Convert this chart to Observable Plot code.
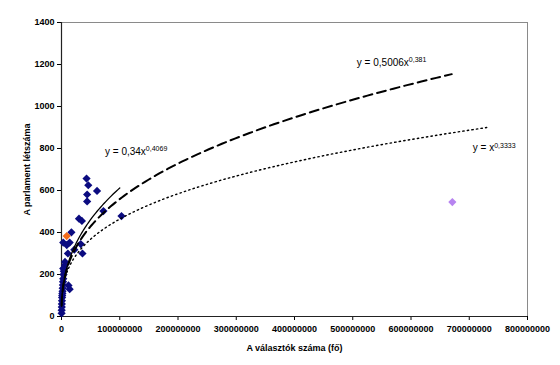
<!DOCTYPE html>
<html>
<head>
<meta charset="utf-8">
<script src="https://cdn.jsdelivr.net/npm/d3@7"></script>
<script src="https://cdn.jsdelivr.net/npm/@observablehq/plot@0.6"></script>
<style>
  html, body { margin: 0; padding: 0; background: #fff; }
  #chart { width: 560px; height: 365px; }
</style>
</head>
<body>
<div id="chart"></div>
<script>
// Voters (millions) and parliament size – blue countries
const blueVoters = [0.2, 0.3, 0.5, 0.6, 0.8, 1.0, 1.2, 1.5, 1.8, 2.0, 2.3, 2.6, 3.0, 3.5, 4.0, 4.5, 6.0, 6.0, 12, 14, 3.0,
                    3, 9, 14, 33, 11, 22, 36, 17, 30, 35, 44, 44, 61, 46, 43, 72, 103];
const blueSeats  = [15, 30, 45, 60, 75, 90, 100, 110, 120, 135, 150, 165, 180, 200, 215, 230, 245, 260, 148, 130, 228,
                    352, 340, 352, 345, 300, 318, 300, 401, 466, 455, 548, 581, 598, 625, 657, 502, 478];
// Highlighted points
const orangeVoters = [8.9];
const orangeSeats = [383];
const purpleVoters = [671];
const purpleSeats = [545];

// Trendlines as shown on the chart: y = a * x^b
const trendA = [0.34, 0.5006, 1];
const trendB = [0.4069, 0.381, 0.3333];
const trendFrom = [0.2e6, 0.2e6, 0.2e6];
const trendTo = [100e6, 670e6, 730e6];

// Equation labels (base ^ exponent)
const eqText = ["y = 0,34x^0,4069", "y = 0,5006x^0,381", "y = x^0,3333"];
const eqX = [0.747e8, 5.07e8, 7.06e8];
const eqY = [785, 1207, 801];

const xTicks = d3.range(0, 800000001, 100000000);
const yTicks = d3.range(0, 1401, 200);

const blue = blueVoters.map((v, i) => ({x: v * 1e6, y: blueSeats[i]}));
const orange = orangeVoters.map((v, i) => ({x: v * 1e6, y: orangeSeats[i]}));
const purple = purpleVoters.map((v, i) => ({x: v * 1e6, y: purpleSeats[i]}));

function trend(k) {
  const n = 200;
  const l0 = Math.log(trendFrom[k]), l1 = Math.log(trendTo[k]);
  return d3.range(n + 1).map(i => {
    const x = Math.exp(l0 + (l1 - l0) * i / n);
    return {x, y: trendA[k] * Math.pow(x, trendB[k])};
  });
}
const eqs = eqText.map((t, i) => ({x: eqX[i], y: eqY[i], t}));

const svg = Plot.plot({
  width: 560,
  height: 365,
  marginLeft: 61,
  marginRight: 33,
  marginTop: 22,
  marginBottom: 49,
  style: {fontFamily: "'Liberation Sans', Arial, sans-serif", fontSize: "9px", fontWeight: "bold", background: "#fff", color: "#000"},
  x: {domain: [0, 800000000]},
  y: {domain: [0, 1400]},
  marks: [
    Plot.frame({stroke: "#8a8a8a", strokeWidth: 1}),
    Plot.axisX({ticks: xTicks, tickFormat: d3.format("d"), tickSize: 4, tickPadding: 5,
      label: "A választók száma (fő)", labelAnchor: "center", labelOffset: 34, labelArrow: "none"}),
    Plot.axisY({ticks: yTicks, tickFormat: d3.format("d"), tickSize: 4, tickPadding: 3,
      label: "A parlament létszáma", labelAnchor: "center", labelOffset: 38, labelArrow: "none"}),
    Plot.ruleX([0], {stroke: "#222", strokeWidth: 1.2}),
    Plot.ruleY([0], {stroke: "#222", strokeWidth: 1.2}),
    Plot.dot(blue, {x: "x", y: "y", symbol: "diamond2", r: 3.7, fill: "#0b0b80", stroke: "none"}),
    Plot.dot(orange, {x: "x", y: "y", symbol: "diamond2", r: 3.7, fill: "#f26a1b", stroke: "none"}),
    Plot.dot(purple, {x: "x", y: "y", symbol: "diamond2", r: 3.7, fill: "#b784f0", stroke: "none"}),
    Plot.line(trend(0), {x: "x", y: "y", stroke: "#000", strokeWidth: 1.3}),
    Plot.line(trend(1), {x: "x", y: "y", stroke: "#000", strokeWidth: 2, strokeDasharray: "9,5"}),
    Plot.line(trend(2), {x: "x", y: "y", stroke: "#000", strokeWidth: 1.4, strokeDasharray: "1.4,3.2"}),
    Plot.text(eqs, {x: "x", y: "y", text: "t", textAnchor: "start", fontSize: 10, fontWeight: "normal", fill: "#000"})
  ]
});

d3.select(svg).selectAll("text").each(function() {
  const t = this.textContent;
  if (t.includes("^")) {
    const [b, e] = t.split("^");
    const s = d3.select(this);
    s.text(null);
    s.append("tspan").text(b);
    s.append("tspan").attr("dy", "-0.55em").attr("font-size", "7px").attr("fill", "#000").text(e);
  }
});

document.getElementById("chart").appendChild(svg);
</script>
</body>
</html>
